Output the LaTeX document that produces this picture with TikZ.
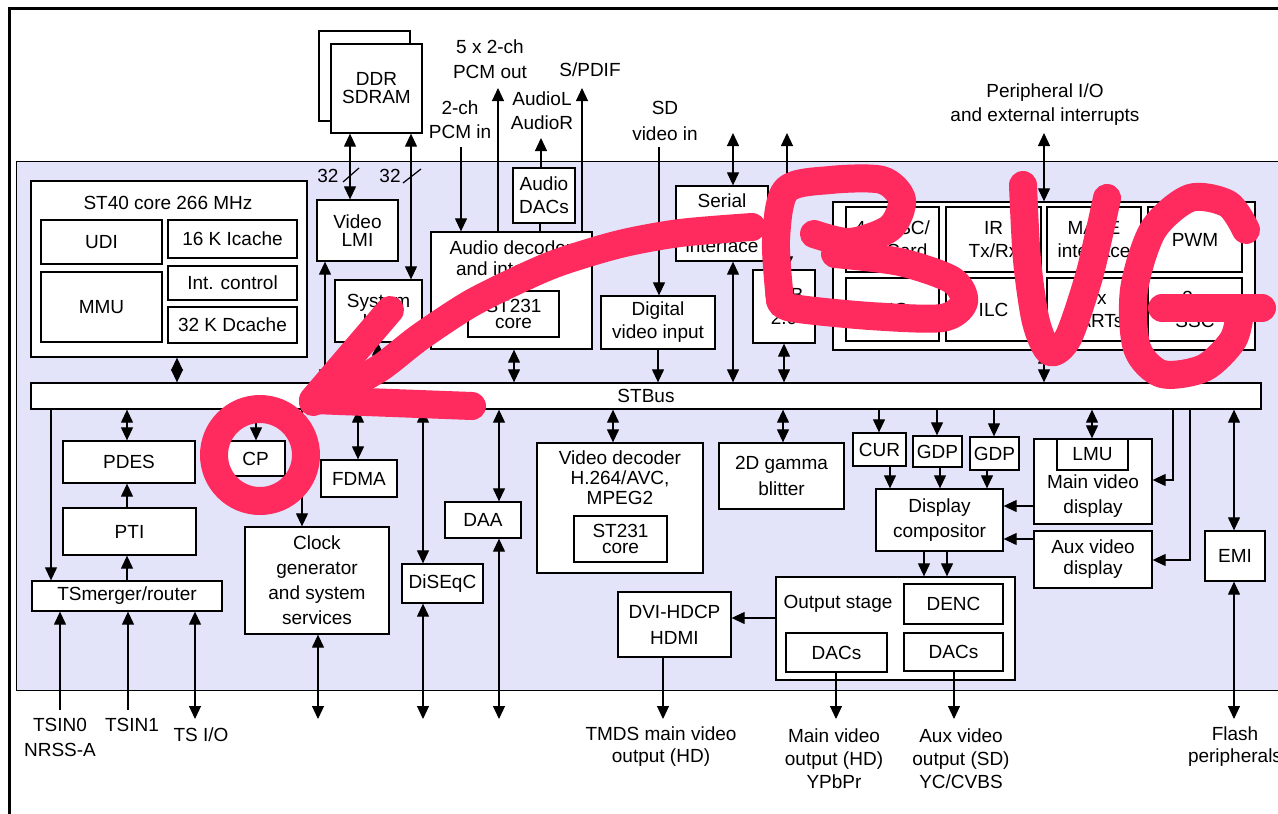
\documentclass[tikz,border=0pt]{standalone}
\usepackage{fontspec}
\setmainfont{Liberation Sans}
\usetikzlibrary{arrows.meta}
\definecolor{chip}{RGB}{227,227,250}
\definecolor{bugpink}{RGB}{255,42,94}
\newcommand\myfs[1]{\fontsize{19}{#1}\selectfont}
\newcommand\bx[7][]{\node[box,minimum width={(#5-#3)*1pt},minimum height={(#6-#4)*1pt},#1] (#2) at ({(#3+#5)/2},{(#4+#6)/2}) {#7};}
\begin{document}
\begin{tikzpicture}[x=1pt,y=-1pt,
  font=\myfs{23},
  >={Triangle[length=13pt,width=12pt]},
  box/.style={draw,line width=1.3pt,fill=white,inner sep=0pt,align=center},
  lbl/.style={inner sep=0pt,align=center},
  cn/.style={line width=1.2pt},
  bug/.style={draw=bugpink,line width=28pt,line cap=round,line join=round}]
\useasboundingbox (0,0) rectangle (1278,814);
\clip (0,0) rectangle (1278,814);
\fill[white] (0,0) rectangle (1278,814);
\draw[line width=3pt] (9.5,830) -- (9.5,8) -- (1300,8);
\draw[fill=chip,line width=0.9pt] (16.5,161) rectangle (1300,690);

\foreach \x in {51,60,127,128,177,256,302,318,325,350,358,378,411,423,461,498,499,514,540,541,582,613,658,659,733,783,784,787,836,879,890,924,937,940,947,954,987,994,1044,1092,1173,1190,1234}
  \coordinate (x\x) at (\x,0);
\foreach \y in {480,506,539,560,618}
  \coordinate (y\y) at (0,\y);

% ---------- boxes ----------
\bx{ddrb}{319}{31}{410}{121}{}
\bx[font=\myfs{18}]{ddr}{331}{44}{422}{133}{DDR\\SDRAM}
\bx[font=\myfs{18}]{vlmi}{317}{200}{398}{261}{Video\\LMI}
\bx[font=\myfs{20}]{slmi}{335}{280}{422}{342}{System\\LMI}
\bx{st40}{31}{181}{307}{357}{}
\node[lbl] (st40t) at (168,203) {ST40 core 266 MHz};
\bx{udi}{41}{220}{162}{264}{UDI}
\bx{mmu}{41}{272}{162}{342}{MMU}
\bx{icache}{168}{220}{297}{258}{16 K Icache}
\bx{intc}{168}{266}{297}{300}{Int. control}
\bx{dcache}{168}{307}{297}{343}{32 K Dcache}
\bx{adac}{513}{168}{575}{223}{Audio\\DACs}
\bx{adec}{431}{232}{592}{349}{}
\node[lbl,font=\myfs{21}] (adect) at (511,258) {Audio decoder\\and interface};
\bx[font=\myfs{16.5}]{acore}{468}{291}{559}{337}{ST231\\core}
\bx{dvin}{601}{296}{715}{349}{Digital\\video input}
\bx[font=\myfs{22.5}]{serial}{676}{186}{768}{261}{Serial\\ATA\\interface}
\bx{usb}{753}{270}{815}{343}{USB\\2.0}
\bx{per}{833}{202}{1255}{350}{}
\bx{pa}{846}{207}{939}{272}{4 x ASC/\\SmCard}
\bx{pb}{946}{207}{1041}{272}{IR\\Tx/Rx}
\bx{pc}{1047}{207}{1141}{272}{MAFE\\interface}
\bx{pd}{1148}{207}{1242}{272}{PWM}
\bx{pe}{846}{278}{939}{341}{PIO}
\bx{pf}{946}{278}{1041}{341}{ILC}
\bx{pg}{1047}{278}{1141}{341}{4 x\\UARTs}
\bx{ph}{1148}{278}{1242}{341}{3 x\\SSC}
\bx{bus}{31}{383}{1261}{409}{STBus}

\bx{pdes}{63}{441}{195}{483}{PDES}
\bx{pti}{63}{508}{196}{555}{PTI}
\bx{tsm}{32}{581}{222}{611}{TSmerger/router}
\bx{cp}{226}{441}{285}{476}{CP}
\bx{fdma}{321}{460}{397}{497}{FDMA}
\bx[font=\myfs{25}]{clk}{245}{527}{389}{634}{Clock\\generator\\and system\\services}
\bx{diseqc}{402}{564}{483}{603}{DiSEqC}
\bx{daa}{445}{502}{521}{538}{DAA}
\bx{vdec}{537}{443}{703}{573}{}
\node[lbl,font=\myfs{20}] (vdect) at (620,478) {Video decoder\\H.264/AVC,\\MPEG2};
\bx[font=\myfs{16.5}]{vcore}{574}{516}{667}{562}{ST231\\core}
\bx[font=\myfs{26}]{blit}{719}{443}{844}{509}{2D gamma\\blitter}
\bx{cur}{853}{433}{906}{466}{CUR}
\bx{gdpa}{913}{436}{962}{467}{GDP}
\bx{gdpb}{970}{437}{1019}{470}{GDP}
\bx[font=\myfs{25}]{dcomp}{876}{489}{1003}{551}{Display\\compositor}
\bx{mvd}{1034}{439}{1152}{524}{}
\bx{lmu}{1057}{439}{1128}{470}{LMU}
\node[lbl,font=\myfs{25}] (mvdt) at (1093,496) {Main video\\display};
\bx[font=\myfs{21}]{avd}{1034}{531}{1152}{588}{Aux video\\display}
\bx{emi}{1205}{531}{1265}{581}{EMI}
\bx[font=\myfs{26}]{hdmi}{618}{592}{731}{657}{DVI-HDCP\\HDMI}
\bx{outst}{776}{577}{1015}{680}{}
\node[lbl] (outstt) at (838,604) {Output stage};
\bx{denc}{904}{584}{1003}{624}{DENC}
\bx{dacsa}{786}{633}{887}{672}{DACs}
\bx{dacsb}{904}{633}{1003}{671}{DACs}

% ---------- outside labels ----------
\node[lbl,font=\myfs{25}] (pcmoutl) at (490,59) {5 x 2-ch\\PCM out};
\node[lbl] (spdifl) at (590,70) {S/PDIF};
\node[lbl,font=\myfs{24}] (audl) at (542,111) {AudioL\\AudioR};
\node[lbl,font=\myfs{24}] (pcminl) at (460,120) {2-ch\\PCM in};
\node[lbl,font=\myfs{26}] (sdinl) at (665,121) {SD\\video in};
\node[lbl,font=\myfs{24}] (periol) at (1045,105) {Peripheral I/O\\and external interrupts};
\node[lbl] (n32a) at (328,176) {32};
\node[lbl] (n32b) at (390,176) {32};
\node[lbl,font=\myfs{25}] (tsin0l) at (60,737) {TSIN0\\NRSS-A};
\node[lbl] (tsin1l) at (132,725) {TSIN1};
\node[lbl] (tsiol) at (201,735) {TS I/O};
\node[lbl,font=\myfs{22}] (tmdsl) at (661,747) {TMDS main video\\output (HD)};
\node[lbl,font=\myfs{23}] (mainl) at (834,759) {Main video\\output (HD)\\YPbPr};
\node[lbl,font=\myfs{23}] (auxl) at (961,759) {Aux video\\output (SD)\\YC/CVBS};
\node[lbl,font=\myfs{22}] (flashl) at (1235,747) {Flash\\peripherals};

% ---------- free ends ----------
\coordinate (pcmoutE) at (498,88);
\coordinate (spdifE) at (582,88);
\coordinate (audE) at (541,138);
\coordinate (pcminE) at (461,147);
\coordinate (sdinE) at (659,147);
\coordinate (serE) at (733,133);
\coordinate (usbE) at (787,133);
\coordinate (perE) at (1044,133);
\coordinate (tsin0E) at (60,710);
\coordinate (tsin1E) at (128,710);
\coordinate (tsioE) at (195,719);
\coordinate (clkE) at (318,719);
\coordinate (diseqcE) at (423,719);
\coordinate (daaE) at (499,719);
\coordinate (hdmiE) at (663,719);
\coordinate (dacsaE) at (836,719);
\coordinate (dacsbE) at (954,719);
\coordinate (emiE) at (1234,719);

% ---------- connectors (top) ----------
\draw[cn,<->] (ddr.south -| x350) -- (vlmi.north -| x350);
\draw[cn,<->] (ddr.south -| x411) -- (slmi.north -| x411);
\draw[cn] (343,182) -- (359,168);
\draw[cn] (403,183) -- (421,169);
\draw[cn,<->] (vlmi.south -| x325) -- (bus.north -| x325);
\draw[cn,<->] (slmi.south -| x378) -- (bus.north -| x378);
\draw[cn,<->] (st40.south -| x177) -- (bus.north -| x177);
\draw[cn,->] (adec.north -| pcmoutE) -- (pcmoutE);
\draw[cn,->] (adec.north -| spdifE) -- (spdifE);
\draw[cn,->] (adac.north -| audE) -- (audE);
\draw[cn] (adac.south -| x540) -- (adec.north -| x540);
\draw[cn,->] (pcminE) -- (adec.north -| pcminE);
\draw[cn,->] (sdinE) -- (dvin.north -| sdinE);
\draw[cn,<->] (serE) -- (serial.north -| serE);
\draw[cn,<->] (usbE) -- (usb.north -| usbE);
\draw[cn,<->] (perE) -- (per.north -| perE);
\draw[cn,<->] (adec.south -| x514) -- (bus.north -| x514);
\draw[cn,->] (dvin.south -| x658) -- (bus.north -| x658);
\draw[cn,<->] (serial.south -| x733) -- (bus.north -| x733);
\draw[cn,<->] (usb.south -| x784) -- (bus.north -| x784);
\draw[cn,<->] (per.south -| x1044) -- (bus.north -| x1044);

% ---------- connectors (bottom) ----------
\draw[cn,->] (bus.south -| x51) -- (tsm.north -| x51);
\draw[cn,<->] (bus.south -| x127) -- (pdes.north -| x127);
\draw[cn,->] (pti.north -| x127) -- (pdes.south -| x127);
\draw[cn,->] (tsm.north -| x127) -- (pti.south -| x127);
\draw[cn,->] (tsin0E) -- (tsm.south -| tsin0E);
\draw[cn,->] (tsin1E) -- (tsm.south -| tsin1E);
\draw[cn,<->] (tsm.south -| tsioE) -- (tsioE);
\draw[cn,->] (bus.south -| x256) -- (cp.north -| x256);
\draw[cn,->] (bus.south -| x302) -- (clk.north -| x302);
\draw[cn,<->] (bus.south -| x358) -- (fdma.north -| x358);
\draw[cn,<->] (clk.south -| clkE) -- (clkE);
\draw[cn,<->] (bus.south -| x423) -- (diseqc.north -| x423);
\draw[cn,<->] (diseqc.south -| diseqcE) -- (diseqcE);
\draw[cn,<->] (bus.south -| x499) -- (daa.north -| x499);
\draw[cn,<->] (daa.south -| daaE) -- (daaE);
\draw[cn,<->] (bus.south -| x613) -- (vdec.north -| x613);
\draw[cn,<->] (bus.south -| x783) -- (blit.north -| x783);
\draw[cn,->] (bus.south -| x879) -- (cur.north -| x879);
\draw[cn,->] (bus.south -| x937) -- (gdpa.north -| x937);
\draw[cn,->] (bus.south -| x994) -- (gdpb.north -| x994);
\draw[cn,->] (cur.south -| x890) -- (dcomp.north -| x890);
\draw[cn,->] (gdpa.south -| x940) -- (dcomp.north -| x940);
\draw[cn,->] (gdpb.south -| x987) -- (dcomp.north -| x987);
\draw[cn,<->] (bus.south -| x1092) -- (lmu.north -| x1092);
\draw[cn,->] (mvd.west |- y506) -- (dcomp.east |- y506);
\draw[cn,->] (avd.west |- y539) -- (dcomp.east |- y539);
\draw[cn,->] (bus.south -| x1173) |- (mvd.east |- y480);
\draw[cn,->] (bus.south -| x1190) |- (avd.east |- y560);
\draw[cn,->] (dcomp.south -| x924) -- (outst.north -| x924);
\draw[cn,->] (dcomp.south -| x947) -- (outst.north -| x947);
\draw[cn,->] (outst.west |- y618) -- (hdmi.east |- y618);
\draw[cn,->] (hdmi.south -| hdmiE) -- (hdmiE);
\draw[cn,->] (dacsa.south -| dacsaE) -- (dacsaE);
\draw[cn,->] (dacsb.south -| dacsbE) -- (dacsbE);
\draw[cn,<->] (bus.south -| x1234) -- (emi.north -| x1234);
\draw[cn,<->] (emi.south -| emiE) -- (emiE);

% ---------- pink annotation ----------
\draw[bug] (260,455) circle [radius=46];
\draw[bug] plot[smooth] coordinates {(752,227) (680,233) (620,244) (560,262) (520,279) (470,304) (420,337) (380,368) (340,390) (313,402)};
\draw[bug] (390,310) -- (313,400) -- (472,406);
\draw[bug] plot[smooth] coordinates {(780,300) (776,240) (786,190) (830,180) (882,180) (902,200) (890,228) (850,242) (814,234)};
\draw[bug] plot[smooth] coordinates {(835,254) (900,262) (952,280) (964,302) (942,318) (870,316) (792,308) (780,300)};
\draw[bug] plot[smooth] coordinates {(1023,185) (1027,260) (1036,322) (1050,352) (1068,338) (1088,280) (1100,230) (1107,198)};
\draw[bug] plot[smooth] coordinates {(1246,230) (1228,204) (1190,198) (1153,230) (1134,290) (1137,348) (1162,374) (1204,368) (1233,340) (1240,312)};
\draw[bug] (1162,308) -- (1262,308);
\end{tikzpicture}
\end{document}
